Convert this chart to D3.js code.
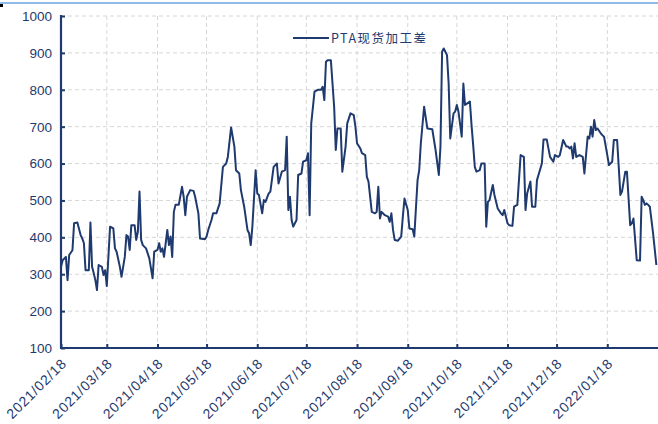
<!DOCTYPE html>
<html><head><meta charset="utf-8">
<script src="https://cdn.jsdelivr.net/npm/d3@7"></script>
<style>body{margin:0;background:#fff}svg{display:block}</style>
</head><body>
<script>
const seriesName = "PTA现货加工差";
const yTicks = [100,200,300,400,500,600,700,800,900,1000];
const xTickLabels = ["2021/02/18","2021/03/18","2021/04/18","2021/05/18","2021/06/18","2021/07/18","2021/08/18","2021/09/18","2021/10/18","2021/11/18","2021/12/18","2022/01/18"];
const dates = [
"2021-02-18","2021-02-19","2021-02-21","2021-02-22","2021-02-23","2021-02-25","2021-02-26","2021-02-28",
"2021-03-02","2021-03-03","2021-03-04","2021-03-05","2021-03-07","2021-03-08","2021-03-09","2021-03-10","2021-03-11","2021-03-12","2021-03-13","2021-03-15","2021-03-16","2021-03-17","2021-03-18","2021-03-20","2021-03-22","2021-03-23","2021-03-24","2021-03-26","2021-03-27","2021-03-29","2021-03-30","2021-03-31",
"2021-04-01","2021-04-02","2021-04-04","2021-04-05","2021-04-06","2021-04-07","2021-04-08","2021-04-09","2021-04-11","2021-04-13","2021-04-15","2021-04-16","2021-04-18","2021-04-19","2021-04-20","2021-04-21","2021-04-22","2021-04-24","2021-04-25","2021-04-26","2021-04-27","2021-04-28","2021-04-29",
"2021-05-01","2021-05-03","2021-05-04","2021-05-05","2021-05-06","2021-05-08","2021-05-10","2021-05-11","2021-05-13","2021-05-14","2021-05-17","2021-05-18","2021-05-19","2021-05-21","2021-05-22","2021-05-24","2021-05-26","2021-05-28","2021-05-30","2021-05-31",
"2021-06-02","2021-06-04","2021-06-05","2021-06-07","2021-06-08","2021-06-10","2021-06-12","2021-06-13","2021-06-14","2021-06-15","2021-06-17","2021-06-18","2021-06-19","2021-06-21","2021-06-22","2021-06-23","2021-06-25","2021-06-26","2021-06-28","2021-06-30",
"2021-07-01","2021-07-03","2021-07-05","2021-07-06","2021-07-07","2021-07-08","2021-07-09","2021-07-10","2021-07-12","2021-07-13","2021-07-15","2021-07-16","2021-07-18","2021-07-19","2021-07-20","2021-07-21","2021-07-23","2021-07-25","2021-07-27","2021-07-28","2021-07-29","2021-07-30","2021-07-31",
"2021-08-02","2021-08-03","2021-08-04","2021-08-05","2021-08-06","2021-08-08","2021-08-09","2021-08-11","2021-08-12","2021-08-14","2021-08-16","2021-08-17","2021-08-18","2021-08-20","2021-08-21","2021-08-23","2021-08-24","2021-08-25","2021-08-27","2021-08-29","2021-08-30","2021-08-31",
"2021-09-01","2021-09-02","2021-09-04","2021-09-06","2021-09-07","2021-09-08","2021-09-09","2021-09-10","2021-09-12","2021-09-14","2021-09-15","2021-09-16","2021-09-18","2021-09-19","2021-09-21","2021-09-22","2021-09-24","2021-09-25","2021-09-26","2021-09-28","2021-09-30",
"2021-10-03","2021-10-05","2021-10-07","2021-10-08","2021-10-09","2021-10-10","2021-10-12","2021-10-13","2021-10-14","2021-10-16","2021-10-17","2021-10-18","2021-10-19","2021-10-21","2021-10-22","2021-10-23","2021-10-26","2021-10-27","2021-10-28","2021-10-29","2021-10-30",
"2021-11-01","2021-11-02","2021-11-04","2021-11-05","2021-11-06","2021-11-07","2021-11-09","2021-11-10","2021-11-12","2021-11-14","2021-11-15","2021-11-16","2021-11-18","2021-11-19","2021-11-21","2021-11-22","2021-11-24","2021-11-26","2021-11-28","2021-11-29","2021-11-30",
"2021-12-02","2021-12-03","2021-12-05","2021-12-06","2021-12-09","2021-12-10","2021-12-12","2021-12-14","2021-12-16","2021-12-17","2021-12-19","2021-12-20","2021-12-22","2021-12-24","2021-12-25","2021-12-26","2021-12-27","2021-12-28","2021-12-29","2021-12-30",
"2022-01-01","2022-01-03","2022-01-04","2022-01-06","2022-01-07","2022-01-08","2022-01-09","2022-01-10","2022-01-11","2022-01-12","2022-01-14","2022-01-15","2022-01-16","2022-01-18","2022-01-19","2022-01-21","2022-01-22","2022-01-24","2022-01-25","2022-01-26","2022-01-27","2022-01-29","2022-01-30",
"2022-02-01","2022-02-02","2022-02-03","2022-02-05","2022-02-07","2022-02-08","2022-02-09","2022-02-10","2022-02-11","2022-02-12","2022-02-13","2022-02-15","2022-02-17"];
const values = [
320,338,347,284,352,365,438,440,
406,397,384,311,311,440,320,303,284,257,325,320,298,311,268,429,424,370,361,320,293,347,406,402,
366,433,433,393,415,524,393,379,370,343,289,361,366,384,361,370,347,420,379,402,347,469,488,
488,537,510,460,510,528,526,510,465,397,395,402,420,447,465,465,492,591,600,618,
698,646,582,573,528,483,420,411,379,429,582,519,515,465,501,496,519,524,591,600,
546,578,582,673,474,510,447,429,447,569,573,605,609,628,460,709,795,800,800,808,772,876,880,
880,817,754,637,695,695,578,646,709,736,731,700,655,641,628,623,564,551,469,465,469,537,
451,469,460,456,442,465,420,393,391,402,456,505,474,424,422,402,555,582,655,754,695,
693,637,569,646,903,912,894,817,668,736,741,759,741,673,817,759,768,704,650,591,578,
582,600,600,429,496,501,542,515,478,465,460,474,438,433,431,483,488,623,618,474,519,
551,483,483,555,600,665,665,618,605,623,618,623,664,646,646,641,646,614,655,618,
623,618,573,673,668,700,673,718,691,695,682,677,673,623,596,605,664,664,591,515,524,578,578,
433,438,451,338,337,510,501,488,492,488,483,411,325];

const W = 658, H = 424;
const navy = "#1f3a6e";
const parse = d3.timeParse("%Y-%m-%d");
const parseTick = d3.timeParse("%Y/%m/%d");
const data = dates.map((d,i)=>({date:parse(d), value:values[i]}));

const svg = d3.select("body").append("svg").attr("width",W).attr("height",H);

// top frame artifacts
svg.append("line").attr("x1",0).attr("x2",W).attr("y1",3).attr("y2",3).attr("stroke","#8fbbe6").attr("stroke-width",2);
svg.append("rect").attr("x",0).attr("y",4).attr("width",3).attr("height",3).attr("fill","#000");

const x = d3.scaleTime().domain([parse("2021-02-18"), parse("2022-02-18")]).range([61, 658]);
const y = d3.scaleLinear().domain([100,1000]).range([348,16]);
const xTicks = xTickLabels.map(parseTick);

// grid
svg.append("g").selectAll("line").data(yTicks.slice(1)).join("line")
  .attr("x1",61).attr("x2",W).attr("y1",d=>y(d)).attr("y2",d=>y(d))
  .attr("stroke","#d6d6d6").attr("stroke-width",1).attr("stroke-dasharray","4,3");
svg.append("g").selectAll("line").data(xTicks.slice(1)).join("line")
  .attr("x1",d=>x(d)).attr("x2",d=>x(d)).attr("y1",16).attr("y2",348)
  .attr("stroke","#d6d6d6").attr("stroke-width",1).attr("stroke-dasharray","4,3");

// y axis
const yAxis = svg.append("g").attr("transform","translate(61,0)")
  .call(d3.axisRight(y).tickValues(yTicks).tickSize(4).tickFormat(""));
yAxis.select(".domain").remove();
yAxis.selectAll("line").attr("stroke",navy).attr("stroke-width",2);
svg.append("line").attr("x1",61).attr("x2",61).attr("y1",15).attr("y2",349).attr("stroke",navy).attr("stroke-width",2.2);
svg.append("g").selectAll("text").data(yTicks).join("text")
  .attr("x",52).attr("y",d=>y(d)).attr("dy","0.36em").attr("text-anchor","end")
  .attr("font-family","Liberation Sans, Arial, sans-serif").attr("font-size",13.5)
  .attr("fill",navy).text(d=>d);

// x axis
const xAxis = svg.append("g").attr("transform","translate(0,348)")
  .call(d3.axisTop(x).tickValues(xTicks).tickSize(4).tickFormat(""));
xAxis.select(".domain").remove();
xAxis.selectAll("line").attr("stroke",navy).attr("stroke-width",2);
svg.append("line").attr("x1",60).attr("x2",W).attr("y1",348).attr("y2",348).attr("stroke",navy).attr("stroke-width",2.2);
svg.append("g").selectAll("text").data(xTicks).join("text")
  .attr("transform",d=>`translate(${x(d)+3},361) rotate(-45)`)
  .attr("dy","0.35em").attr("text-anchor","end")
  .attr("font-family","Liberation Sans, Arial, sans-serif").attr("font-size",14)
  .attr("letter-spacing","0.8px")
  .attr("fill",navy).text((d,i)=>xTickLabels[i]);

// line
const line = d3.line().x(d=>x(d.date)).y(d=>y(d.value));
svg.append("path").datum(data).attr("d",line).attr("fill","none")
  .attr("stroke",navy).attr("stroke-width",2).attr("stroke-linejoin","round");

// legend
svg.append("line").attr("x1",293).attr("x2",329).attr("y1",38).attr("y2",38).attr("stroke",navy).attr("stroke-width",2);
svg.append("text").attr("x",331).attr("y",38).attr("dy","0.36em")
  .attr("font-family","Noto Sans CJK SC, sans-serif").attr("font-size",12.5)
  .attr("letter-spacing","1.5px")
  .attr("fill",navy).text(seriesName);
</script>
</body></html>
